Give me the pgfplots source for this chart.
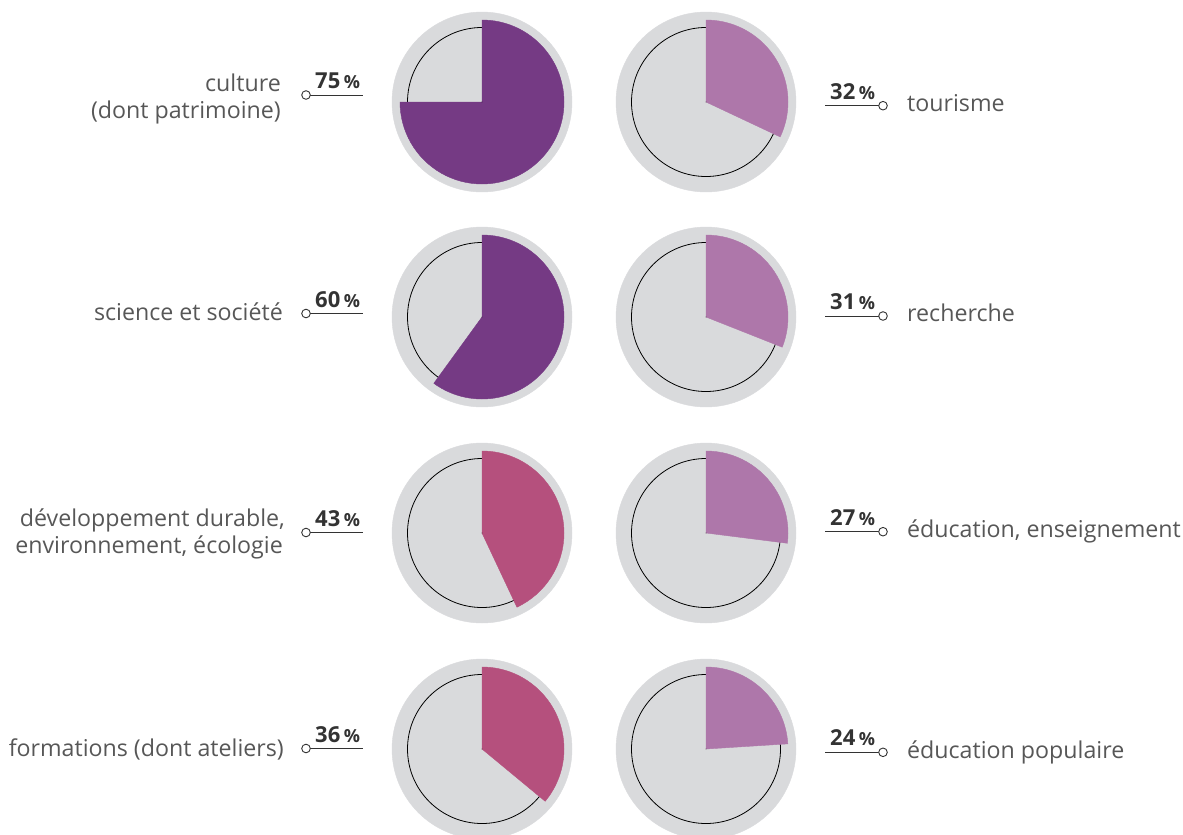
\documentclass[border=0pt]{standalone}
\usepackage{fontspec}
\setmainfont{Open Sans}
\usepackage{pgfplots}
\usepackage{pgfplotstable}
\pgfplotsset{compat=1.18}

\definecolor{diskgray}{HTML}{D9DADC}
\definecolor{plum}{HTML}{753A84}
\definecolor{rose}{HTML}{B5507D}
\definecolor{mauve}{HTML}{AE77AA}
\definecolor{labgray}{HTML}{575757}
\definecolor{numgray}{HTML}{333333}

\newcommand\lab{\fontsize{23.2}{26.5}\selectfont}
\newcommand\pct[1]{{\fontsize{22}{22}\selectfont\bfseries #1}\hspace{3.5pt}{\fontsize{18}{18}\selectfont\bfseries\%}}

% centre x, centre y (pixels, y downwards), share in %
\pgfplotstableread{
x y v
482 102 75
482 317 60
}\plumdata
\pgfplotstableread{
x y v
482 533 43
482 749 36
}\rosedata
\pgfplotstableread{
x y v
706 102 32
706 317 31
706 533 27
706 749 24
}\mauvedata

% each point is drawn as a grey disk, a ringed inner circle and a wedge of v %
\pgfplotsset{
  pie/.style={only marks, scatter, mark=*, mark size=0.01pt,
    mark options={draw=none, fill=none},
    visualization depends on={\thisrow{v} \as \val},
    scatter/@pre marker code/.code={%
      \fill[diskgray] (0pt,0pt) circle[radius=90pt];
      \filldraw[fill=diskgray, draw=black, line width=0.8pt] (0pt,0pt) circle[radius=74.5pt];
      \fill[#1] (0pt,0pt) -- (0pt,82pt) arc[start angle=90, end angle={90-3.6*\val}, radius=82pt] -- cycle;},
    scatter/@post marker code/.code={}},
}

\begin{document}
\begin{tikzpicture}
\begin{axis}[
    width=1183pt, height=835pt, scale only axis,
    xmin=0, xmax=1183, ymin=0, ymax=835, y dir=reverse,
    hide axis, clip=false,
]
\addplot[pie=plum] table {\plumdata};
\addplot[pie=rose] table {\rosedata};
\addplot[pie=mauve] table {\mauvedata};

% category labels
\begin{scope}[every node/.style={inner sep=0pt, text=labgray, font=\lab}]
\node[anchor=base east] at (axis cs:281,91.7) {culture};
\node[anchor=base east] at (axis cs:281,118) {(dont patrimoine)};
\node[anchor=base east] at (axis cs:283,320) {science et société};
\node[anchor=base east] at (axis cs:285,526.7) {développement durable,};
\node[anchor=base east] at (axis cs:283,553) {environnement, écologie};
\node[anchor=base east] at (axis cs:284,756.7) {formations (dont ateliers)};
\node[anchor=base west] at (axis cs:907,111) {tourisme};
\node[anchor=base west] at (axis cs:907,321.7) {recherche};
\node[anchor=base west] at (axis cs:907,537.7) {éducation, enseignement};
\node[anchor=base west] at (axis cs:907,758.3) {éducation populaire};
\end{scope}

\begin{scope}[every node/.style={inner sep=0pt, text=numgray, anchor=base west}]
\node at (axis cs:315,88.5) {\pct{75}};
\node at (axis cs:315,307) {\pct{60}};
\node at (axis cs:315,526) {\pct{43}};
\node at (axis cs:315,742) {\pct{36}};
\node at (axis cs:830,99.2) {\pct{32}};
\node at (axis cs:830,309.5) {\pct{31}};
\node at (axis cs:830,525.2) {\pct{27}};
\node at (axis cs:830,745.8) {\pct{24}};
\end{scope}

\pgfplotsinvokeforeach{95,313.5,532.5,748.5}{
  \draw[numgray, line width=1pt] (axis cs:306,#1) -- (axis cs:363,#1);
  \draw[numgray, line width=0.9pt, fill=white] (axis cs:306,#1) circle[radius=4.3pt];
}
\pgfplotsinvokeforeach{105.7,316,531.7,752.3}{
  \draw[numgray, line width=1pt] (axis cs:825,#1) -- (axis cs:883,#1);
  \draw[numgray, line width=0.9pt, fill=white] (axis cs:883,#1) circle[radius=4.3pt];
}
\end{axis}
\pgfresetboundingbox
\path (0,0) rectangle (1183pt,835pt);
\end{tikzpicture}
\end{document}
